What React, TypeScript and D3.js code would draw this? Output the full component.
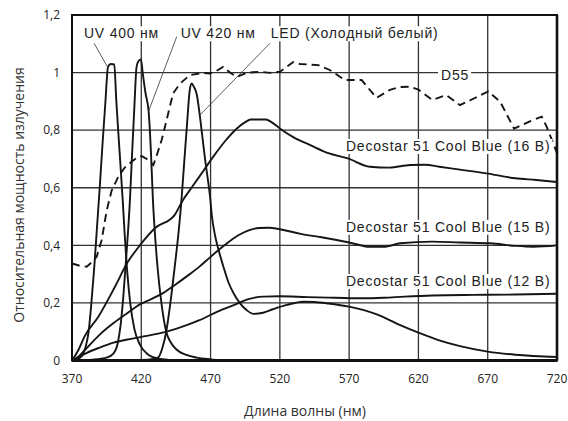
import React, { useEffect, useRef } from 'react';
import * as d3 from 'd3';

const W = 568;
const H = 421;

const xTicks = [370, 420, 470, 520, 570, 620, 670, 720];
const yTicks = [0, 0.2, 0.4, 0.6, 0.8, 1, 1.2];
const yTickLabels = ['0', '0,2', '0,4', '0,6', '0,8', '1', '1,2'];
const xTitle = 'Длина волны (нм)';
const yTitle = 'Относительная мощность излучения';

const uv400Nm = [370, 374, 377, 380, 382, 384, 386, 388, 390, 392, 394, 396, 398, 400.5, 402, 404, 406.6, 408, 410, 412, 415, 419, 425, 432, 440, 450];
const uv400Val = [0, 0.005, 0.015, 0.05, 0.1, 0.2, 0.32, 0.46, 0.6, 0.75, 0.89, 1.02, 1.03, 1.028, 0.9, 0.75, 0.557, 0.44, 0.3, 0.2, 0.11, 0.055, 0.02, 0.007, 0.002, 0];

const uv420Nm = [370, 385, 395, 400, 403, 405, 407, 409, 411.8, 413, 415, 416.6, 418, 419.8, 421, 423, 425.3, 427, 428.4, 430, 432, 434, 436, 438, 441, 445, 452, 460, 470, 480];
const uv420Val = [0, 0.003, 0.01, 0.025, 0.06, 0.12, 0.22, 0.35, 0.557, 0.68, 0.88, 1.02, 1.04, 1.046, 1.0, 0.93, 0.865, 0.72, 0.557, 0.43, 0.31, 0.22, 0.15, 0.1, 0.065, 0.04, 0.02, 0.01, 0.004, 0];

const ledNm = [400, 425, 432, 435, 438, 441, 444, 447, 449, 451, 453, 455, 456.4, 458, 460, 462, 464, 466, 468, 469.6, 471, 473, 476, 479, 483, 487, 491, 496, 501, 508, 515, 525, 537, 545, 555, 570, 590, 606, 620, 635, 650, 670, 690, 720];
const ledVal = [0, 0.003, 0.01, 0.04, 0.1, 0.2, 0.32, 0.45, 0.557, 0.69, 0.82, 0.94, 0.962, 0.95, 0.925, 0.86, 0.78, 0.7, 0.63, 0.57, 0.5, 0.44, 0.38, 0.33, 0.27, 0.23, 0.2, 0.175, 0.162, 0.166, 0.178, 0.193, 0.204, 0.203, 0.198, 0.187, 0.16, 0.125, 0.097, 0.07, 0.05, 0.031, 0.02, 0.012];

const d16Nm = [370, 375, 379, 389, 401, 410, 419, 430, 444, 450, 457, 465, 473, 481, 489, 495, 499, 510, 514, 520, 530, 542, 555, 569, 585, 599, 614, 625, 635, 650, 669, 690, 705, 720];
const d16Val = [0, 0.04, 0.083, 0.152, 0.256, 0.34, 0.4, 0.46, 0.505, 0.557, 0.605, 0.66, 0.715, 0.765, 0.806, 0.828, 0.837, 0.837, 0.828, 0.806, 0.775, 0.748, 0.72, 0.702, 0.673, 0.67, 0.679, 0.68, 0.673, 0.663, 0.65, 0.633, 0.627, 0.62];

const d15Nm = [370, 375, 380, 390, 400, 410, 419, 428, 436, 445, 455, 462, 470, 480, 490, 498, 505, 512, 520, 535, 550, 570, 585, 595, 607, 630, 650, 672, 690, 703, 720];
const d15Val = [0, 0.015, 0.04, 0.09, 0.13, 0.165, 0.195, 0.215, 0.235, 0.265, 0.3, 0.326, 0.36, 0.4, 0.435, 0.453, 0.46, 0.461, 0.456, 0.44, 0.428, 0.41, 0.395, 0.395, 0.407, 0.413, 0.41, 0.407, 0.398, 0.395, 0.4];

const d12Nm = [370, 375, 380, 390, 400, 410, 420, 433, 445, 462, 475, 488, 498, 508, 520, 540, 560, 580, 595, 610, 630, 660, 690, 720];
const d12Val = [0, 0.012, 0.025, 0.045, 0.062, 0.073, 0.082, 0.094, 0.11, 0.14, 0.17, 0.195, 0.214, 0.222, 0.223, 0.22, 0.218, 0.216, 0.218, 0.222, 0.226, 0.228, 0.229, 0.232];

const d55Nm = [370, 375, 380.6, 384, 387.8, 391.4, 395, 398.6, 403.4, 408, 413, 417, 420.3, 424, 428.7, 431, 434.7, 437, 440, 443, 448, 455, 464.7, 469.6, 474, 479, 484, 488.8, 496, 505.6, 513, 520, 525, 529.7, 534.5, 547.7, 556, 567, 579, 589.8, 599.4, 606.6, 613.9, 620, 630, 640, 650, 660, 670.4, 679, 689, 700, 709, 712.5, 716, 720];
const d55Val = [0.337, 0.33, 0.326, 0.34, 0.36, 0.418, 0.52, 0.59, 0.638, 0.67, 0.69, 0.705, 0.71, 0.7, 0.679, 0.71, 0.766, 0.81, 0.87, 0.928, 0.962, 0.991, 0.999, 0.997, 1.005, 1.02, 1.0, 0.985, 0.999, 1.003, 0.999, 1.003, 1.02, 1.037, 1.03, 1.026, 1.009, 0.974, 0.974, 0.912, 0.94, 0.95, 0.951, 0.941, 0.905, 0.922, 0.887, 0.91, 0.935, 0.899, 0.805, 0.83, 0.847, 0.812, 0.77, 0.72];

const solidSeries = [
  { nm: uv400Nm, val: uv400Val },
  { nm: uv420Nm, val: uv420Val },
  { nm: ledNm, val: ledVal },
  { nm: d16Nm, val: d16Val },
  { nm: d15Nm, val: d15Val },
  { nm: d12Nm, val: d12Val },
];

const labelTexts = ['UV 400 нм', 'UV 420 нм', 'LED (Холодный белый)', 'D55', 'Decostar 51 Cool Blue (16 B)', 'Decostar 51 Cool Blue (15 B)', 'Decostar 51 Cool Blue (12 B)'];
// label anchor in data units (nm, value)
const labelNm = [378.6, 448.4, 513.4, 636.3, 567.7, 567.7, 567.7];
const labelVal = [1.119, 1.119, 1.119, 0.9726, 0.7277, 0.447, 0.2588];

// leader lines
const leaderFromNm = [385.9, 445.6, 512.9];
const leaderFromVal = [1.102, 1.125, 1.102];
const leaderToNm = [395.5, 425.1, 462.4];
const leaderToVal = [1.0205, 0.864, 0.853];

export default function App() {
  const ref = useRef<SVGSVGElement>(null);

  useEffect(() => {
    const svg = d3.select(ref.current);
    svg.selectAll('*').remove();

    const x = d3.scaleLinear().domain([370, 720]).range([72, 557]);
    const y = d3.scaleLinear().domain([0, 1.2]).range([360.5, 15]);

    svg.append('rect').attr('width', W).attr('height', H).attr('fill', '#fff');

    // grid
    const g = svg.append('g');
    g.selectAll('line.v')
      .data(xTicks.slice(1, -1))
      .join('line')
      .attr('x1', (d) => x(d)).attr('x2', (d) => x(d))
      .attr('y1', y(1.2)).attr('y2', y(0))
      .attr('stroke', '#333').attr('stroke-width', 1.3);
    g.selectAll('line.h')
      .data(yTicks.slice(1, -1))
      .join('line')
      .attr('x1', x(370)).attr('x2', x(720))
      .attr('y1', (d) => y(d)).attr('y2', (d) => y(d))
      .attr('stroke', '#333').attr('stroke-width', 1.3);

    // curves
    const line = d3.line<[number, number]>()
      .x((d) => x(d[0])).y((d) => y(d[1]))
      .curve(d3.curveMonotoneX);
    solidSeries.forEach((s) => {
      const pts = s.nm.map((n, i) => [n, s.val[i]] as [number, number]);
      svg.append('path').attr('d', line(pts)!)
        .attr('fill', 'none').attr('stroke', '#151515').attr('stroke-width', 1.9)
        .attr('stroke-linejoin', 'round');
    });
    const dline = d3.line<[number, number]>()
      .x((d) => x(d[0])).y((d) => y(d[1]))
      .curve(d3.curveLinear);
    svg.append('path')
      .attr('d', dline(d55Nm.map((n, i) => [n, d55Val[i]] as [number, number]))!)
      .attr('fill', 'none').attr('stroke', '#151515').attr('stroke-width', 1.9)
      .attr('stroke-dasharray', '8,5');

    // leaders
    leaderFromNm.forEach((n, i) => {
      svg.append('line')
        .attr('x1', x(n)).attr('y1', y(leaderFromVal[i]))
        .attr('x2', x(leaderToNm[i])).attr('y2', y(leaderToVal[i]))
        .attr('stroke', '#333').attr('stroke-width', 0.8);
    });

    // labels with white backgrounds
    labelTexts.forEach((t, i) => {
      const lg = svg.append('g');
      const rect = lg.append('rect').attr('fill', '#fff');
      const txt = lg.append('text')
        .attr('x', x(labelNm[i])).attr('y', y(labelVal[i]))
        .attr('font-family', '"Liberation Sans", Arial, sans-serif')
        .attr('font-size', 14)
        .attr('letter-spacing', 0.8)
        .attr('fill', '#222')
        .text(t);
      const bb = (txt.node() as SVGTextElement).getBBox();
      rect.attr('x', bb.x - 3).attr('y', bb.y + 1).attr('width', bb.width + 5).attr('height', bb.height - 1);
    });

    // frame
    svg.append('rect')
      .attr('x', x(370)).attr('y', y(1.2))
      .attr('width', x(720) - x(370)).attr('height', y(0) - y(1.2))
      .attr('fill', 'none').attr('stroke', '#111').attr('stroke-width', 2);
    svg.append('line').attr('x1', x(370)).attr('x2', x(720)).attr('y1', y(0)).attr('y2', y(0))
      .attr('stroke', '#111').attr('stroke-width', 3);
    svg.append('line').attr('x1', x(720)).attr('x2', x(720)).attr('y1', y(1.2)).attr('y2', y(0))
      .attr('stroke', '#111').attr('stroke-width', 2.6);

    // tick labels
    const font = '"Open Sans", "Noto Sans", sans-serif';
    svg.selectAll('text.yt')
      .data(yTicks)
      .join('text')
      .attr('x', 60).attr('y', (d) => y(d)).attr('dy', '0.36em')
      .attr('text-anchor', 'end').attr('font-family', font).attr('font-size', 12)
      .attr('fill', '#222')
      .text((d, i) => yTickLabels[i]);
    svg.selectAll('text.xt')
      .data(xTicks)
      .join('text')
      .attr('x', (d) => x(d)).attr('y', 382.5)
      .attr('text-anchor', 'middle').attr('font-family', font).attr('font-size', 12)
      .attr('fill', '#222')
      .text((d) => String(d));

    svg.append('text')
      .attr('x', 305).attr('y', 416)
      .attr('text-anchor', 'middle').attr('font-family', font).attr('font-size', 14)
      .attr('fill', '#333').text(xTitle);
    svg.append('text')
      .attr('transform', 'translate(24,195) rotate(-90)')
      .attr('text-anchor', 'middle').attr('font-family', font).attr('font-size', 14)
      .attr('fill', '#333').text(yTitle);
  }, []);

  return (
    <svg ref={ref} width={W} height={H}
      style={{ position: 'absolute', left: 0, top: 0, display: 'block' }} />
  );
}
